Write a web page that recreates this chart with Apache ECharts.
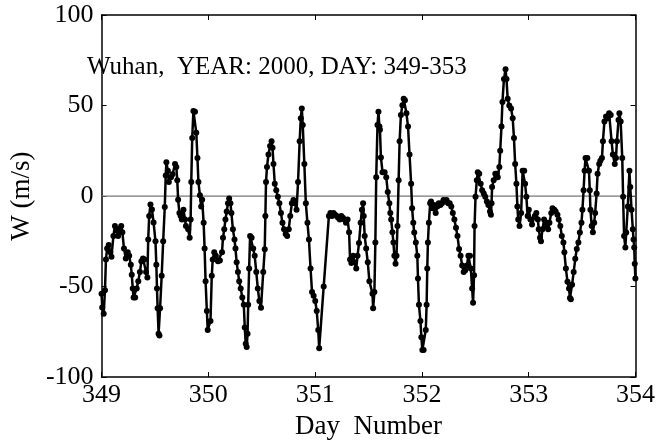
<!DOCTYPE html>
<html><head><meta charset="utf-8">
<script src="https://cdn.jsdelivr.net/npm/echarts@6/dist/echarts.min.js"></script>
<style>html,body{margin:0;padding:0;background:#fff}#c{width:658px;height:445px}</style>
</head><body><div id="c"></div>
<script>
const days = [
349.000,349.006,349.020,349.032,349.041,349.052,349.067,349.082,349.093,349.111,349.125,349.140,349.155,349.169,349.184,349.195,349.210,349.227,349.245,349.259,349.274,349.283,349.292,349.300,349.315,349.329,349.344,349.359,349.373,349.388,349.402,349.417,349.429,349.437,349.446,349.458,349.472,349.487,
349.505,349.513,349.519,349.525,349.534,349.542,349.548,349.563,349.577,349.592,349.601,349.607,349.621,349.630,349.650,349.665,349.688,349.700,349.709,349.717,349.729,349.741,349.752,349.767,349.782,349.790,349.811,349.825,349.834,349.840,349.849,349.860,349.875,349.887,349.898,349.907,349.921,349.933,349.942,349.956,349.965,349.974,349.986,349.994,
350.020,350.032,350.041,350.055,350.070,350.090,350.108,350.128,350.137,350.149,350.160,350.172,350.184,350.195,350.207,350.216,350.230,350.245,350.254,350.265,350.277,350.289,350.303,350.318,350.332,350.341,350.350,350.359,350.367,350.373,350.382,350.391,350.405,350.420,350.434,350.449,350.463,350.478,350.493,
350.514,350.528,350.534,350.540,350.549,350.563,350.578,350.592,350.601,350.610,350.622,350.636,350.651,350.665,350.680,350.694,350.709,350.724,350.738,350.753,350.767,350.782,350.797,350.811,350.826,350.840,350.855,350.866,350.875,350.884,350.899,350.913,350.928,350.942,350.957,350.971,350.986,351.001,351.015,
351.029,351.038,351.080,351.129,351.143,351.158,351.172,351.187,351.202,351.216,351.231,351.245,351.260,351.274,351.289,351.304,351.318,351.327,351.339,351.356,351.368,351.385,351.397,351.411,351.426,351.438,351.449,351.455,351.464,351.478,351.493,351.508,
351.537,351.543,351.555,351.564,351.572,351.584,351.593,351.602,351.607,351.616,351.631,351.651,351.666,351.680,351.695,351.704,351.712,351.724,351.733,351.742,351.753,351.762,351.771,351.782,351.791,351.803,351.817,351.829,351.841,351.855,351.870,351.884,351.899,351.908,351.919,351.928,351.943,351.957,351.963,351.972,351.986,351.995,352.004,352.016,
352.036,352.044,352.050,352.056,352.065,352.077,352.085,352.100,352.114,352.129,352.144,352.158,352.173,352.187,352.202,352.217,352.231,352.246,352.260,352.275,352.289,352.304,352.319,352.333,352.348,352.362,352.377,352.391,352.406,352.421,352.435,352.450,352.458,352.470,352.479,352.488,352.493,352.502,352.514,352.523,352.537,
352.550,352.564,352.579,352.593,352.608,352.622,352.637,352.646,352.652,352.657,352.672,352.687,352.701,352.710,352.725,352.733,352.745,352.754,352.768,352.783,352.792,352.803,352.818,352.835,352.850,352.862,352.873,352.885,352.894,352.902,352.914,352.929,352.943,352.958,352.966,352.978,352.990,353.001,353.016,353.031,
353.057,353.071,353.086,353.094,353.106,353.115,353.129,353.144,353.159,353.173,353.182,353.194,353.211,353.223,353.240,353.252,353.269,353.281,353.296,353.310,353.325,353.334,353.348,353.363,353.377,353.386,353.395,353.406,353.421,353.436,353.450,353.465,353.479,353.494,353.503,353.514,353.523,353.532,
353.549,353.564,353.572,353.578,353.590,353.601,353.613,353.622,353.636,353.645,353.660,353.671,353.686,353.695,353.709,353.724,353.739,353.753,353.768,353.776,353.788,353.806,353.817,353.826,353.841,353.849,353.861,353.876,353.884,353.893,353.905,353.913,353.928,353.943,353.951,353.963,353.975,353.982,353.988,353.993,353.999
];
const wind = [
-54,-61.5,-65,-52,-35,-29,-27,-31,-33.5,-22,-16.5,-19,-22,-18,-16.5,-20,-29,-34.5,-31,-33,-38,-43.5,-51,-56,-56,-51,-47,-42,-36,-34.5,-35,-42,-45,-24,-11,-4.7,-7.4,-14.6,
-25,-38,-51,-62,-76,-77,-62,-44,-25,-6,11.4,18.6,14,7.7,10.4,12,17.7,16,8.7,-2,-9.4,-11,-13,-7.6,-13,-16.6,-18.4,-23,-13,7.7,32,47,46.5,35,21,7.7,0.5,-5.8,-2,-14.8,-29,-47,-63.5,-74,
-69,-44,-35,-31,-33,-36,-35.6,-31,-23,-18.4,-13,-8.5,-4,-1.3,-4,-9.4,-18.4,-24,-29,-36.5,-42,-47,-51,-56,-60,-72.6,-81.6,-83.4,-76,-60,-40,-22,-23,-29,-33,-42,-51,-58,-61.7,
-42,-29.4,-11,7.7,16,23,27.6,30.3,26.7,17.7,6.8,3.2,-0.4,-4,-9.4,-14.8,-18.4,-21,-22,-18.4,-11,-4,-2.2,-4,-7.6,7.7,30.3,43,48.4,39.3,17.7,-4,-14.8,-24,-40,-53,-55,-58,-63.5,
-74,-84,-50,-11,-9.4,-11,-9.4,-10.3,-11,-12,-13,-11,-12,-13,-14.8,-13,-20,-35,-37,-33,-36.6,-40,-33,-26,-14.8,-7.6,-4,-11,-22,-29,-36.6,-47,
-54,-62,-53,-25.6,10.4,39.3,46.5,38.4,36.6,21.3,13.2,13.2,10.4,2.3,-4,-9.4,-13,-20,-25.6,-33,-37.4,-33,-16.6,8.7,30.3,44.7,50.2,53.7,52.9,45.7,38.4,22.9,6.8,-6.7,-14.8,-20.2,-25.6,-33,-45.5,-60,-69,-78,-85,-85,
-74,-60,-40,-25.6,-14.8,-4,-3,-6.7,-5,-9.4,-5.8,-4,-5,-4,-2.2,-3,-2.2,-4,-4,-5.8,-9.4,-13,-17.5,-22,-29.2,-33,-38.4,-42,-41,-38.4,-33,-33,-40,-51,-59,-43.7,-16.6,-0.4,8.7,13.2,12.3,
6.8,3.2,1.4,-0.4,-3,-5,-8.5,-10.3,-4,5,8.7,12.3,12.3,10.4,16,25,38.4,52,64.6,70,64.6,53.7,50,48.4,43,32,17.7,6.8,-5.8,-13,-16.6,-9.4,14,14,6.8,-0.4,-11,-7.6,-13,-15.7,
-11,-9.4,-13,-18.4,-23,-24.9,-18.4,-13,-16.6,-14.8,-18.4,-14.8,-9.4,-6.7,-7.6,-8.5,-10.3,-13,-16.6,-22,-25.6,-31,-40,-47.3,-51,-56.3,-57,-49,-42,-34.7,-29.2,-25.6,-20.2,-14.8,-7.6,3.2,14,21,
21,14,3.2,-7.6,-16.6,-20,-14.8,-9.4,1.4,12.3,17.7,19.5,21,30.3,41.2,44,43,45.7,44.7,30.3,23,17.7,21,30.3,42,45.7,41.2,21,-0.4,-22,-28.4,-20.2,-5.8,14,5,-7.6,-18.4,-24,-28.4,-37.4,-45.5
];
const xTicks = [349, 350, 351, 352, 353, 354];
const yTicks = [-100, -50, 0, 50, 100];
const zeroLine = [[349, 0], [354, 0]];
const annotation = 'Wuhan,  YEAR: 2000, DAY: 349-353';
const xName = 'Day  Number';
const yName = 'W (m/s)';

const points = days.map((d, i) => [d, wind[i]]);
const font = 'Liberation Serif';
const chart = echarts.init(document.getElementById('c'), null, {renderer: 'canvas'});
const axisCommon = {
  type: 'value',
  axisLine: {show: true, onZero: false, lineStyle: {color: '#000', width: 1.5}},
  axisTick: {show: true, inside: true, length: 5, lineStyle: {color: '#000', width: 1}},
  splitLine: {show: false}
};
chart.setOption({
  animation: false,
  backgroundColor: '#fff',
  grid: {left: 66, right: 20, top: 15, bottom: 61, containLabel: false},
  title: {text: annotation, left: 82, top: 50,
    textStyle: {fontFamily: font, fontSize: 25, fontWeight: 'normal', color: '#000'}},
  xAxis: [
    Object.assign({}, axisCommon, {min: xTicks[0], max: xTicks[xTicks.length-1], interval: 1, position: 'bottom',
      name: xName, nameLocation: 'middle', nameGap: 34,
      nameTextStyle: {fontFamily: font, fontSize: 27, color: '#000'},
      axisLabel: {fontFamily: font, fontSize: 26, color: '#000', margin: 5}}),
    Object.assign({}, axisCommon, {min: xTicks[0], max: xTicks[xTicks.length-1], interval: 1, position: 'top',
      axisLabel: {show: false}})
  ],
  yAxis: [
    Object.assign({}, axisCommon, {min: yTicks[0], max: yTicks[yTicks.length-1], interval: 50, position: 'left',
      name: yName, nameLocation: 'middle', nameGap: 31, nameRotate: 90,
      nameTextStyle: {fontFamily: font, fontSize: 27, color: '#000'},
      axisLabel: {fontFamily: font, fontSize: 26, color: '#000', margin: 8}}),
    Object.assign({}, axisCommon, {min: yTicks[0], max: yTicks[yTicks.length-1], interval: 50, position: 'right',
      axisLabel: {show: false}})
  ],
  series: [
    {type: 'line', data: zeroLine, xAxisIndex: 0, yAxisIndex: 0, symbol: 'none', silent: true, z: 1,
      lineStyle: {color: '#777', width: 1.2}},
    {type: 'line', data: points, xAxisIndex: 0, yAxisIndex: 0, z: 3,
      symbol: 'circle', symbolSize: 6, showAllSymbol: true,
      itemStyle: {color: '#000'}, lineStyle: {color: '#000', width: 2.5}}
  ]
});
</script></body></html>
